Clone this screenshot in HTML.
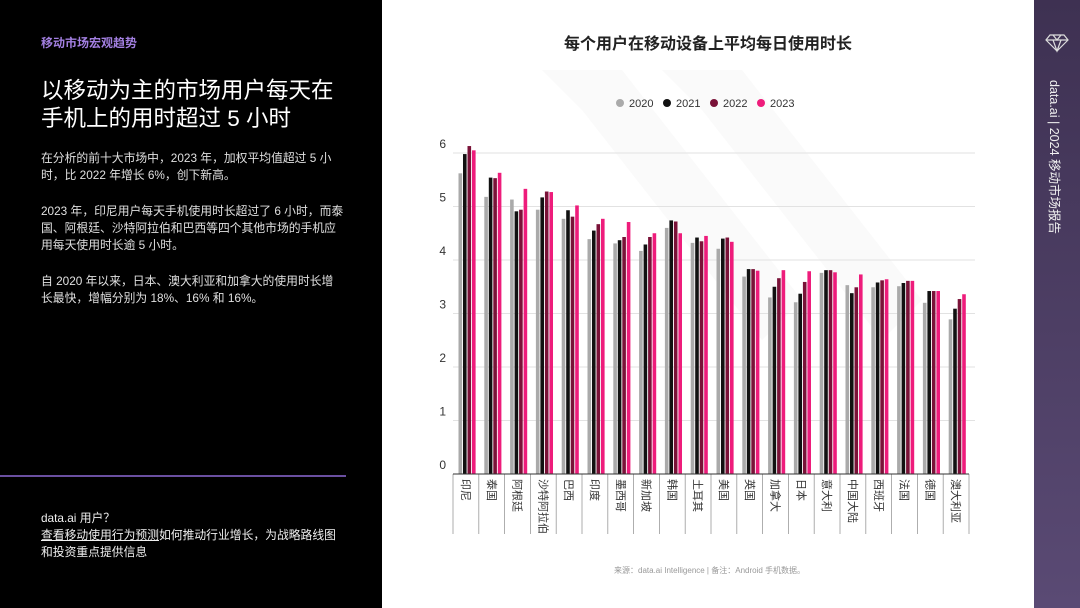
<!DOCTYPE html>
<html><head><meta charset="utf-8"><style>
body{margin:0;width:1080px;height:608px;overflow:hidden;background:#fff;font-family:"Liberation Sans","Noto Sans CJK SC",sans-serif;position:relative}
#left{position:absolute;left:0;top:0;width:382px;height:608px;background:#000;color:#e8e8e8}
#side{position:absolute;left:1034px;top:0;width:46px;height:608px;background:linear-gradient(#3e3152,#5a4a74)}
.p{position:absolute;left:41px;font-size:11.8px;line-height:17px;color:#e0e0e0;white-space:nowrap}
</style></head><body>
<div id="left">
<div style="position:absolute;left:41px;top:34px;font-size:12px;color:#a27fe0;font-weight:bold">移动市场宏观趋势</div>
<div style="position:absolute;left:41px;top:77px;font-size:22.5px;line-height:28px;color:#fff;white-space:nowrap">以移动为主的市场用户每天在<br>手机上的用时超过 5 小时</div>
<div class="p" style="top:150px">在分析的前十大市场中，2023 年，加权平均值超过 5 小<br>时，比 2022 年增长 6%，创下新高。</div>
<div class="p" style="top:203px">2023 年，印尼用户每天手机使用时长超过了 6 小时，而泰<br>国、阿根廷、沙特阿拉伯和巴西等四个其他市场的手机应<br>用每天使用时长逾 5 小时。</div>
<div class="p" style="top:273px">自 2020 年以来，日本、澳大利亚和加拿大的使用时长增<br>长最快，增幅分别为 18%、16% 和 16%。</div>
<div style="position:absolute;left:0;top:475px;width:346px;height:2px;background:#6a4fa0"></div>
<div class="p" style="top:510px;color:#f0f0f0">data.ai 用户？<br><span style="text-decoration:underline">查看移动使用行为预测</span>如何推动行业增长，为战略路线图<br>和投资重点提供信息</div>
</div>
<div id="side">
<svg width="46" height="60" style="position:absolute;left:0;top:18px"><g fill="none" stroke="#ddd" stroke-width="1.2"><polygon points="16,17 30,17 34,22 23,33 12,22"/><line x1="12" y1="22" x2="34" y2="22"/><polyline points="19,17 23,22 27,17"/><polyline points="19,22 23,33 27,22"/></g></svg>
<div style="position:absolute;left:23px;top:80px;transform-origin:0 0;transform:rotate(90deg) translate(0,-8px);white-space:nowrap;font-size:12.5px;color:#f0f0f0">data.ai | 2024 移动市场报告</div>
</div>
<svg width="652" height="608" style="position:absolute;left:382px;top:0" font-family="Liberation Sans, Noto Sans CJK SC, sans-serif">
<polygon points="160,70 240,70 420,300 380,340 200,110" fill="#fafafa"/>
<polygon points="280,70 360,70 540,300 500,340 320,110" fill="#fafafa"/>
<text x="326" y="49" text-anchor="middle" font-size="16" font-weight="bold" fill="#222">每个用户在移动设备上平均每日使用时长</text>
<g font-size="11" fill="#333">
<circle cx="238" cy="103" r="4" fill="#aaa"/><text x="247" y="107">2020</text>
<circle cx="285" cy="103" r="4" fill="#111"/><text x="294" y="107">2021</text>
<circle cx="332" cy="103" r="4" fill="#7a1238"/><text x="341" y="107">2022</text>
<circle cx="379" cy="103" r="4" fill="#ee1c7b"/><text x="388" y="107">2023</text>
</g>
<g id="chart"></g>
</svg>
<div style="position:absolute;left:614px;top:565px;font-size:8px;color:#999">来源：data.ai Intelligence | 备注：Android 手机数据。</div>
<script>
var d=[["印尼",5.62,5.98,6.13,6.05],["泰国",5.18,5.54,5.53,5.63],["阿根廷",5.13,4.91,4.94,5.33],["沙特阿拉伯",4.94,5.17,5.28,5.27],["巴西",4.77,4.93,4.81,5.02],["印度",4.39,4.55,4.67,4.77],["墨西哥",4.31,4.37,4.43,4.71],["新加坡",4.17,4.29,4.43,4.5],["韩国",4.6,4.74,4.72,4.5],["土耳其",4.32,4.42,4.35,4.45],["美国",4.21,4.4,4.42,4.34],["英国",3.69,3.83,3.83,3.8],["加拿大",3.3,3.5,3.66,3.81],["日本",3.21,3.37,3.59,3.79],["意大利",3.76,3.81,3.81,3.77],["中国大陆",3.53,3.38,3.49,3.73],["西班牙",3.49,3.58,3.62,3.64],["法国",3.51,3.57,3.61,3.61],["德国",3.2,3.42,3.42,3.42],["澳大利亚",2.89,3.09,3.27,3.36]];
var c=["#aaa","#111","#7a1238","#ee1c7b"],s="",ox=-382,z=474,u=53.5;
for(var v=0;v<=6;v++){var y=z-v*u;if(v>0)s+='<line x1="'+(453+ox)+'" x2="'+(975+ox)+'" y1="'+y+'" y2="'+y+'" stroke="#e2e2e2"/>';s+='<text x="'+(446+ox)+'" y="'+(y-5)+'" font-size="12" fill="#333" text-anchor="end">'+v+'</text>';}
d.forEach(function(r,i){var gx=459+i*25.8+ox;for(var k=0;k<4;k++){var h=r[k+1]*u;s+='<rect x="'+(gx+k*4.5-0.5)+'" y="'+(z-h)+'" width="3.6" height="'+h+'" fill="'+c[k]+'"/>';}
var lx=gx+7;s+='<text transform="translate('+(lx-4)+',479) rotate(90)" font-size="11" fill="#333">'+r[0]+'</text>';});
for(var i=0;i<=20;i++){var x=453+i*25.8+ox;s+='<line x1="'+x+'" x2="'+x+'" y1="474" y2="534" stroke="#999" stroke-width="0.8"/>';}
s+='<line x1="'+(453+ox)+'" x2="'+(969+ox)+'" y1="474" y2="474" stroke="#333" stroke-width="1"/>';
document.getElementById("chart").innerHTML=s;
</script>
</body></html>
